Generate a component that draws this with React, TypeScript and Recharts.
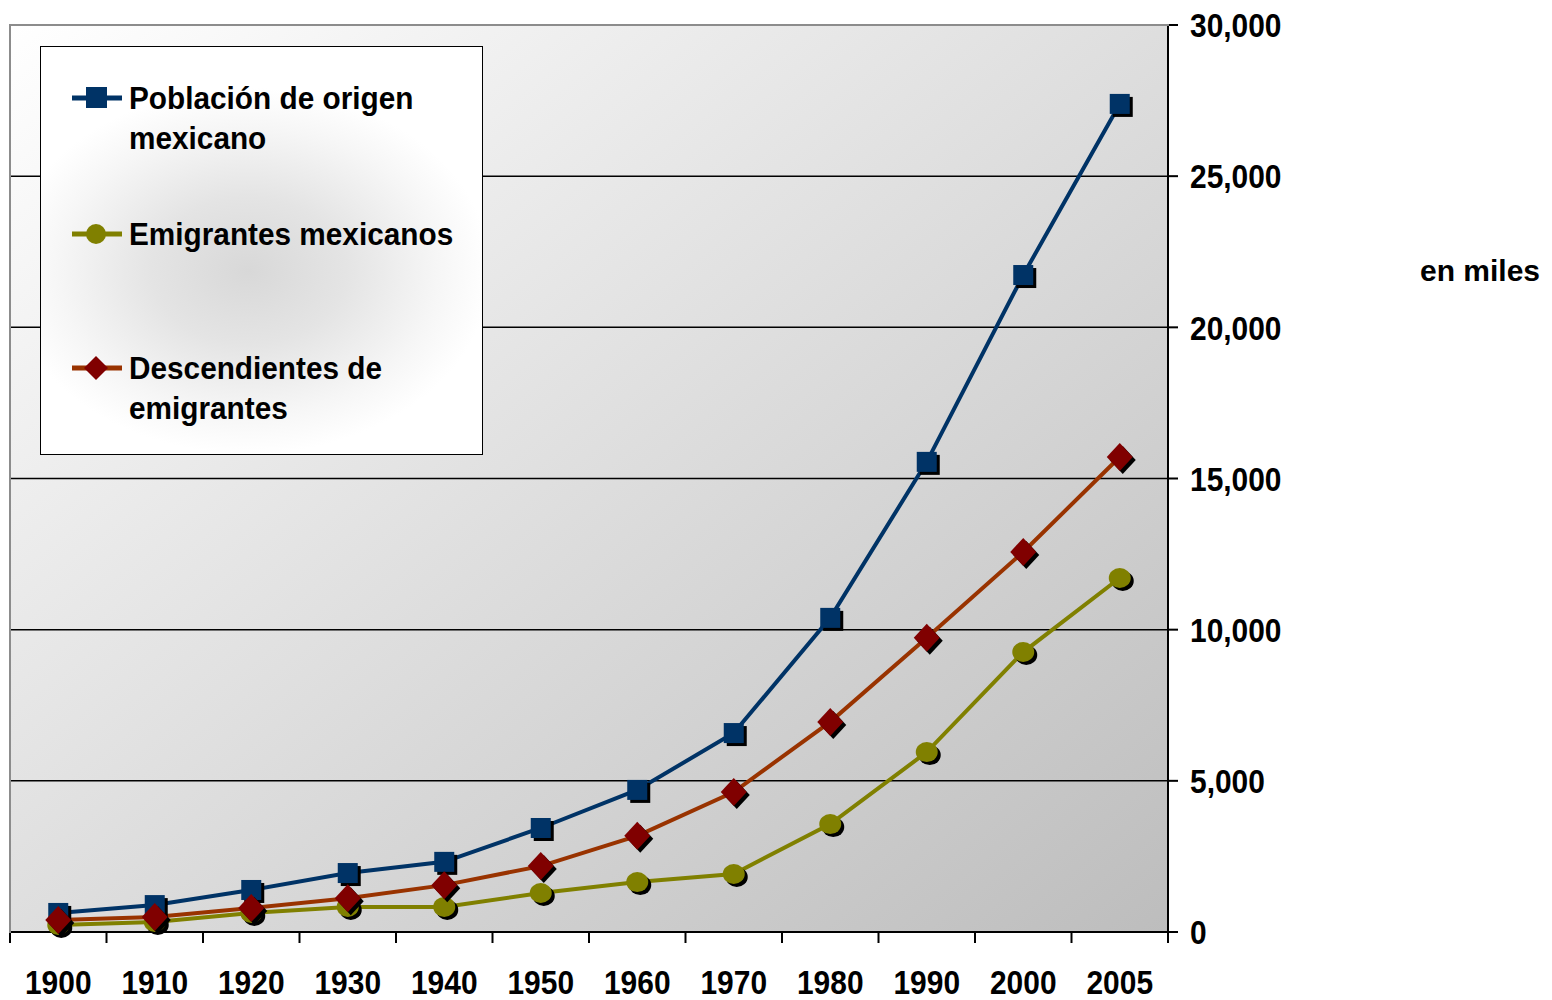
import { LineChart, Line, XAxis, YAxis, CartesianGrid } from "recharts";

const YEARS = ["1900", "1910", "1920", "1930", "1940", "1950", "1960", "1970", "1980", "1990", "2000", "2005"];
const POBLACION = [630, 890, 1390, 1950, 2320, 3440, 4700, 6580, 10390, 15550, 21730, 27390];
const EMIGRANTES = [230, 330, 630, 830, 830, 1290, 1650, 1920, 3570, 5950, 9260, 11710];
const DESCENDIENTES = [400, 500, 790, 1120, 1550, 2180, 3180, 4630, 6950, 9730, 12570, 15710];
const Y_TICKS = [0, 5000, 10000, 15000, 20000, 25000, 30000];

const data = YEARS.map((year, i) => ({
    year,
    poblacion: POBLACION[i],
    emigrantes: EMIGRANTES[i],
    descendientes: DESCENDIENTES[i],
}));

const W = 1552;
const H = 1000;
const PLOT_LEFT = 10;
const PLOT_RIGHT = 1168;
const PLOT_TOP = 25;
const PLOT_BOTTOM = 932;
const BAND = (PLOT_RIGHT - PLOT_LEFT) / YEARS.length;
const FONT = "'Liberation Sans', Arial, sans-serif";

const BLUE = "#003366";
const OLIVE = "#808000";
const RUST = "#993300";
const MAROON = "#800000";

const SquareDot = (props: any) => {
    const { cx, cy } = props;
    if (cx == null || cy == null) return null;
    return (
        <g>
            <rect x={cx - 10 + 3} y={cy - 10 + 3} width={20} height={20} fill="#000" />
            <rect x={cx - 10} y={cy - 10} width={20} height={20} fill={BLUE} />
        </g>
    );
};

const CircleDot = (props: any) => {
    const { cx, cy } = props;
    if (cx == null || cy == null) return null;
    return (
        <g>
            <ellipse cx={cx + 3} cy={cy + 3} rx={11} ry={10} fill="#000" />
            <ellipse cx={cx} cy={cy} rx={11} ry={10} fill={OLIVE} />
        </g>
    );
};

const DiamondDot = (props: any) => {
    const { cx, cy } = props;
    if (cx == null || cy == null) return null;
    const d = (x: number, y: number) => `M${x},${y - 14} L${x + 13},${y} L${x},${y + 14} L${x - 13},${y} Z`;
    return (
        <g>
            <path d={d(cx + 3, cy + 3)} fill="#000" />
            <path d={d(cx, cy)} fill={MAROON} />
        </g>
    );
};

const XTick = (props: any) => {
    const { x, y, payload, index } = props;
    const top = PLOT_BOTTOM;
    return (
        <g>
            <line x1={x - BAND / 2} x2={x - BAND / 2} y1={top} y2={top + 11} stroke="#000" strokeWidth={2} />
            {index === YEARS.length - 1 && (
                <line x1={x + BAND / 2} x2={x + BAND / 2} y1={top} y2={top + 11} stroke="#000" strokeWidth={2} />
            )}
            <text
                transform={`translate(${x},${y + 54}) scale(0.88,1)`}
                textAnchor="middle"
                fontFamily={FONT}
                fontWeight="bold"
                fontSize={34}
                fill="#000"
            >
                {payload.value}
            </text>
        </g>
    );
};

const YTick = (props: any) => {
    const { x, y, payload } = props;
    return (
        <text
            transform={`translate(${x},${y}) scale(0.88,1)`}
            dy="0.36em"
            textAnchor="start"
            fontFamily={FONT}
            fontWeight="bold"
            fontSize={34}
            fill="#000"
        >
            {payload.value.toLocaleString("en-US")}
        </text>
    );
};

const legendItems = [
    { label: ["Población de origen", "mexicano"], color: BLUE, marker: "square", top: 77 },
    { label: ["Emigrantes mexicanos"], color: OLIVE, marker: "circle", top: 213 },
    { label: ["Descendientes de", "emigrantes"], color: RUST, marker: "diamond", top: 347 },
];

function LegendMarker({ marker, color }: { marker: string; color: string }) {
    return (
        <svg width={50} height={30} style={{ position: "absolute", left: 31, top: 5 }}>
            <line x1={0} x2={50} y1={15} y2={15} stroke={color} strokeWidth={5} />
            {marker === "square" && <rect x={14} y={4} width={21} height={21} fill={BLUE} />}
            {marker === "circle" && <ellipse cx={24} cy={15} rx={10} ry={10} fill={OLIVE} />}
            {marker === "diamond" && <path d="M24,3 L36,15 L24,27 L12,15 Z" fill={MAROON} />}
        </svg>
    );
}

export default function App() {
    return (
        <div style={{ position: "absolute", left: 0, top: 0, width: W, height: H, background: "#fff" }}>
            <LineChart
                width={W}
                height={H}
                data={data}
                margin={{ top: PLOT_TOP, left: PLOT_LEFT, right: W - PLOT_RIGHT - 120, bottom: H - PLOT_BOTTOM - 60 }}
            >
                <defs>
                    <linearGradient id="plotBg" x1="0" y1="0" x2="1" y2="1">
                        <stop offset="0%" stopColor="#ffffff" />
                        <stop offset="100%" stopColor="#bdbdbd" />
                    </linearGradient>
                </defs>
                <CartesianGrid
                    vertical={false}
                    stroke="#000"
                    strokeWidth={1.5}
                    fill="url(#plotBg)"
                    fillOpacity={1}
                />
                <XAxis
                    dataKey="year"
                    height={60}
                    padding={{ left: BAND / 2, right: BAND / 2 }}
                    axisLine={{ stroke: "#000", strokeWidth: 2 }}
                    tickLine={false}
                    tick={<XTick />}
                    interval={0}
                />
                <YAxis
                    orientation="right"
                    width={120}
                    domain={[0, 30000]}
                    ticks={Y_TICKS}
                    interval={0}
                    axisLine={{ stroke: "#000", strokeWidth: 2 }}
                    tickLine={{ stroke: "#000", strokeWidth: 2 }}
                    tickSize={10}
                    tickMargin={12}
                    tick={<YTick />}
                />
                <Line
                    dataKey="poblacion"
                    stroke={BLUE}
                    strokeWidth={4}
                    dot={<SquareDot />}
                    activeDot={false}
                    isAnimationActive={false}
                />
                <Line
                    dataKey="emigrantes"
                    stroke={OLIVE}
                    strokeWidth={4}
                    dot={<CircleDot />}
                    activeDot={false}
                    isAnimationActive={false}
                />
                <Line
                    dataKey="descendientes"
                    stroke={RUST}
                    strokeWidth={4}
                    dot={<DiamondDot />}
                    activeDot={false}
                    isAnimationActive={false}
                />
            </LineChart>

            {/* gray frame on top and left of plot */}
            <div
                style={{
                    position: "absolute",
                    left: PLOT_LEFT - 1,
                    top: PLOT_TOP - 1,
                    width: PLOT_RIGHT - PLOT_LEFT,
                    height: PLOT_BOTTOM - PLOT_TOP,
                    borderTop: "2px solid #8c8c8c",
                    borderLeft: "2px solid #8c8c8c",
                    pointerEvents: "none",
                }}
            />

            <div
                style={{
                    position: "absolute",
                    left: 40,
                    top: 46,
                    width: 441,
                    height: 407,
                    border: "1.5px solid #000",
                    background:
                        "radial-gradient(ellipse 55% 45% at 47% 55%, #d8d8d8 0%, #e4e4e4 40%, #f6f6f6 78%, #ffffff 100%)",
                    fontFamily: FONT,
                    fontWeight: "bold",
                    fontSize: 32,
                    color: "#000",
                }}
            >
                {legendItems.map((it) => (
                    <div key={it.marker} style={{ position: "absolute", left: 0, top: it.top - 46, width: 441 }}>
                        <LegendMarker marker={it.marker} color={it.color} />
                        <div
                            style={{
                                position: "absolute",
                                left: 88,
                                top: 0,
                                lineHeight: "40px",
                                whiteSpace: "nowrap",
                                transform: "scaleX(0.93)",
                                transformOrigin: "left top",
                            }}
                        >
                            {it.label.map((l) => (
                                <div key={l}>{l}</div>
                            ))}
                        </div>
                    </div>
                ))}
            </div>

            <div
                style={{
                    position: "absolute",
                    left: 1420,
                    top: 254,
                    fontFamily: FONT,
                    fontWeight: "bold",
                    fontSize: 30,
                    whiteSpace: "nowrap",
                }}
            >
                en miles
            </div>
        </div>
    );
}
